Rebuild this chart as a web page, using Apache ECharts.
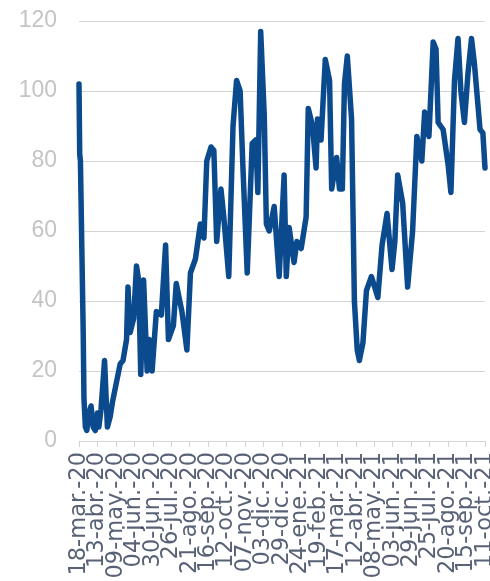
<!DOCTYPE html>
<html>
<head>
<meta charset="utf-8">
<script src="https://cdn.jsdelivr.net/npm/echarts@6/dist/echarts.min.js"></script>
<style>
html,body{margin:0;padding:0;background:#fff;}
#chart{width:490px;height:581px;}
</style>
</head>
<body>
<div id="chart"></div>
<script>
// Axis domain: daily dates from 18-mar-20 to 11-oct-21
const startDate = '2020-03-18';
const dayCount = 573;

// Tick labels every 26 days
const xTickLabels = ['18-mar.-20','13-abr.-20','09-may.-20','04-jun.-20','30-jun.-20','26-jul.-20',
  '21-ago.-20','16-sep.-20','12-oct.-20','07-nov.-20','03-dic.-20','29-dic.-20','24-ene.-21',
  '19-feb.-21','17-mar.-21','12-abr.-21','08-may.-21','03-jun.-21','29-jun.-21','25-jul.-21',
  '20-ago.-21','15-sep.-21','11-oct.-21'];
const tickEvery = 26;

// Series: day offset from 18-mar-20 and value
const pointDay = [0,1,2,4,6,7,9,11,14,17,20,23,26,28,31,36,40,44,47,51,58,62,67,69,72,77,81,84,87,91,96,99,103,109,116,122,126,133,137,145,152,157,164,171,176,180,186,190,194,200,204,211,217,222,227,231,237,244,249,252,256,261,264,268,275,282,289,292,296,303,307,313,320,323,329,334,336,341,347,353,356,363,367,371,374,378,384,388,392,395,400,405,412,421,427,434,441,445,449,456,463,470,476,483,487,493,499,503,506,513,520,524,529,534,538,543,548,553,557,565,569,572];
const pointValue = [102,82,80,55,30,12,4,3,8,10,4,3,8,4,9,23,4,7,11,15,22,23,29,44,31,35,50,46,19,46,20,29,20,37,36,56,29,33,45,37,26,48,52,62,58,80,84,83,57,72,64,47,90,103,100,78,48,85,86,71,117,93,62,60,67,47,76,47,61,51,57,55,64,95,90,78,92,86,109,103,72,81,72,72,102,110,92,40,26,23,28,43,47,41,56,65,49,57,76,68,44,60,87,80,94,87,114,112,91,89,79,71,103,115,100,91,105,115,108,89,88,78];

const yMin = 0, yMax = 120, yStep = 20;

const categories = [];
(function(){
  const t0 = Date.parse(startDate + 'T00:00:00Z');
  for (let i = 0; i < dayCount; i++) {
    categories.push(new Date(t0 + i*86400000).toISOString().slice(0,10));
  }
})();
const seriesData = pointDay.map((d, i) => [d, pointValue[i]]);
// anchor of each date label: on the axis at its tick
const labelAnchors = xTickLabels.map((t, i) => [i * tickEvery, yMin]);

const chart = echarts.init(document.getElementById('chart'));
chart.setOption({
  animation: false,
  backgroundColor: '#ffffff',
  grid: {left: 79, right: 5, top: 21, bottom: 140, containLabel: false},
  xAxis: {
    type: 'category',
    data: categories,
    boundaryGap: false,
    axisLine: {lineStyle: {color: '#d4d4d4', width: 1}},
    axisTick: {show: true, interval: tickEvery - 1, length: 6, lineStyle: {color: '#d4d4d4'}},
    axisLabel: {show: false},
    splitLine: {show: false}
  },
  yAxis: {
    type: 'value',
    min: yMin, max: yMax, interval: yStep,
    axisLine: {show: false},
    axisTick: {show: false},
    axisLabel: {
      margin: 22,
      fontFamily: 'Liberation Sans, Arial, sans-serif',
      fontSize: 23,
      color: '#c4c4c4'
    },
    splitLine: {lineStyle: {color: '#d4d4d4', width: 1}}
  },
  series: [{
    type: 'line',
    data: seriesData,
    showSymbol: false,
    smooth: false,
    lineStyle: {color: '#0c4a8e', width: 5.5, join: 'round', cap: 'round'},
    itemStyle: {color: '#0c4a8e'},
    z: 3
  }, {
    type: 'scatter',
    data: labelAnchors,
    symbolSize: 0,
    silent: true,
    clip: false,
    z: 1,
    label: {
      show: true,
      position: [0, 11],
      rotate: 90,
      align: 'right',
      verticalAlign: 'middle',
      fontFamily: 'DejaVu Sans, sans-serif',
      fontSize: 22.5,
      color: '#2e3a52',
      formatter: function(p){ return xTickLabels[p.dataIndex]; }
    }
  }]
});
</script>
</body>
</html>
